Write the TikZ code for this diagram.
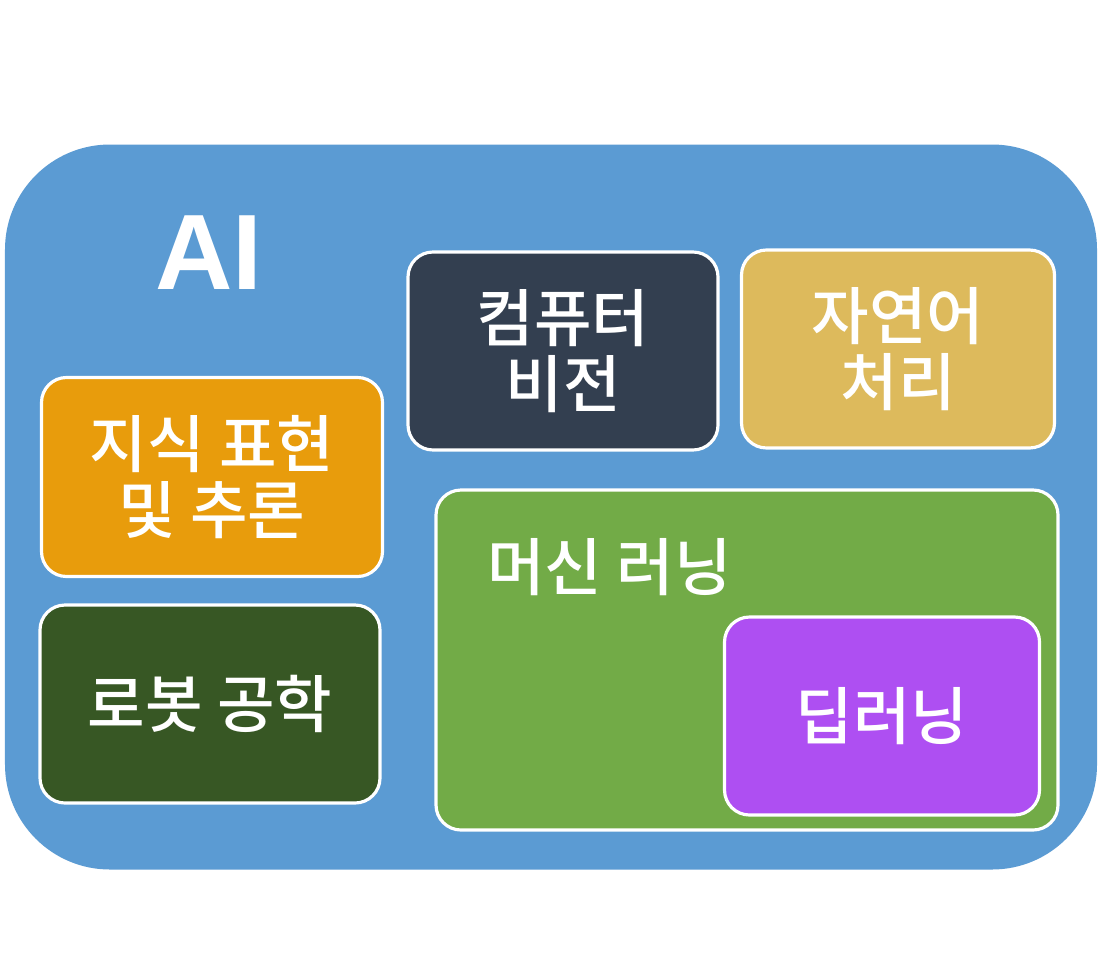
\documentclass[tikz,border=0pt]{standalone}
\usepackage{fontspec}
\setmainfont{Noto Sans CJK KR}[BoldFont={Noto Sans CJK KR Medium}]
\newfontfamily\latinbold{Liberation Sans}[BoldFont={Liberation Sans Bold}]
\usepackage{xcolor}
\usepackage{tikz}
\usetikzlibrary{positioning}
\definecolor{aiblue}{HTML}{5B9BD3}
\definecolor{cvnavy}{HTML}{333F50}
\definecolor{nlpgold}{HTML}{DDBA5C}
\definecolor{kro}{HTML}{E89C0C}
\definecolor{robgreen}{HTML}{375724}
\definecolor{mlgreen}{HTML}{72AB47}
\definecolor{dlpurple}{HTML}{AE4FF2}

\begin{document}
\begin{tikzpicture}[
  area/.style={draw=white, line width=0.9pt, rounded corners=0.25cm, align=center, text=white, font=\fontsize{17.8}{19}\selectfont\bfseries, inner sep=0pt},
  field/.style={area, minimum width=3.1cm, minimum height=1.98cm}
]
  \useasboundingbox[fill=white] (0,0) rectangle (11.04,-9.73);

  \node[area, fill=aiblue, draw=none, rounded corners=1.05cm, minimum width=10.92cm, minimum height=7.25cm] (ai) at (5.51,-5.07) {};
  \node[text=white, font=\latinbold\fontsize{30.5}{32}\selectfont\bfseries, anchor=center] (ailabel) at (2.09,-2.53) {AI};

  \node[field, fill=cvnavy] (cv) at (5.63,-3.51) {컴퓨터\\비전};
  \node[field, fill=nlpgold, minimum width=3.13cm] (nlp) at (8.98,-3.49) {자연어\\처리};
  \node[field, fill=kro, minimum width=3.41cm, minimum height=1.99cm] (kr) at (2.12,-4.77) {지식 표현\\및 추론};
  \node[field, fill=robgreen, minimum width=3.40cm] (robot) at (2.10,-7.04) {로봇 공학};

  \node[area, fill=mlgreen, minimum width=6.22cm, minimum height=3.40cm] (ml) at (7.47,-6.60) {};
  \node[text=white, font=\fontsize{17.8}{19}\selectfont\bfseries, anchor=west] (mllabel) at (4.75,-5.67) {머신 러닝};
  \node[field, fill=dlpurple, minimum width=3.15cm] (dl) at (8.82,-7.16) {딥러닝};
\end{tikzpicture}
\end{document}
